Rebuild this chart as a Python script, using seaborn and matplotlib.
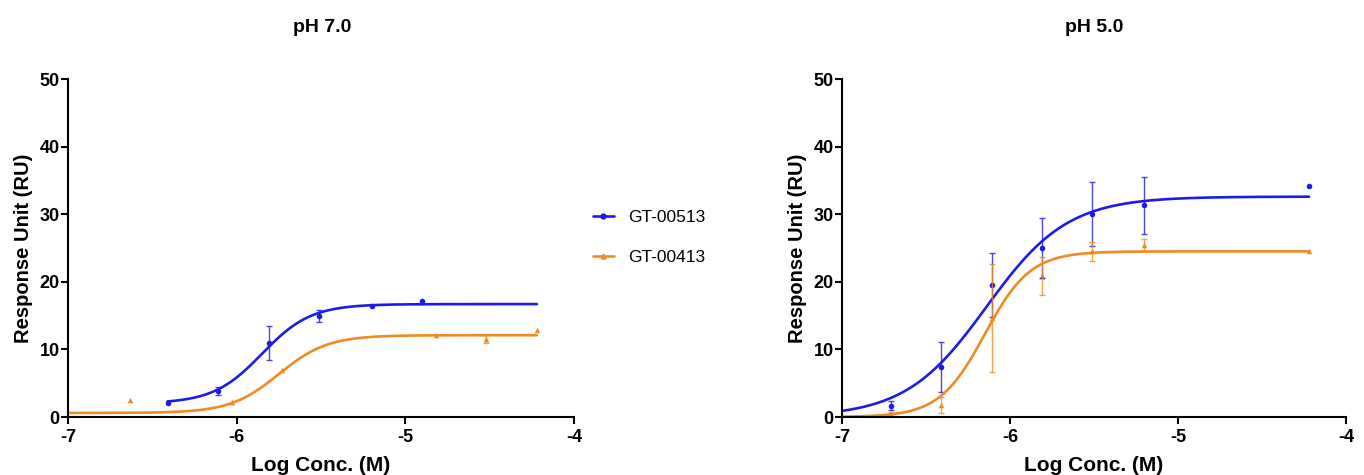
import numpy as np
import pandas as pd
import seaborn as sns
import matplotlib.pyplot as plt
from matplotlib.lines import Line2D

# === DADOS ===
series = ["GT-00513", "GT-00413"]
cores = {"GT-00513": "#1c1ce6", "GT-00413": "#f08a24"}
marcadores = {"GT-00513": "o", "GT-00413": "^"}

# pH 7.0
ph7_azul_x = [-6.41, -6.11, -5.81, -5.51, -5.20, -4.90]
ph7_azul_y = [2.1, 3.8, 11.0, 15.0, 16.4, 17.1]
ph7_azul_err = [0.0, 0.6, 2.5, 0.9, 0.0, 0.0]
ph7_laranja_x = [-6.63, -6.03, -5.73, -4.82, -4.52, -4.22]
ph7_laranja_y = [2.5, 2.2, 7.0, 12.1, 11.5, 12.9]
ph7_laranja_err = [0.0, 0.0, 0.0, 0.0, 0.6, 0.0]

# pH 5.0
ph5_azul_x = [-6.71, -6.41, -6.11, -5.81, -5.51, -5.20, -4.22]
ph5_azul_y = [1.7, 7.4, 19.5, 25.0, 30.0, 31.3, 34.2]
ph5_azul_err = [0.6, 3.7, 4.7, 4.45, 4.75, 4.2, 0.0]
ph5_laranja_x = [-6.71, -6.41, -6.11, -5.81, -5.51, -5.20, -4.22]
ph5_laranja_y = [0.5, 1.8, 14.6, 20.8, 24.5, 25.5, 24.5]
ph5_laranja_err = [0.3, 1.2, 8.0, 2.8, 1.4, 0.9, 0.0]

# parâmetros do ajuste 4PL: (bottom, top, logEC50, hill, x_inicio, x_fim)
ajuste_ph7 = {"GT-00513": (2.0, 16.7, -5.85, 3.0, -6.41, -4.22),
              "GT-00413": (0.6, 12.1, -5.75, 3.0, -7.0, -4.22)}
ajuste_ph5 = {"GT-00513": (0.0, 32.6, -6.14, 1.8, -7.0, -4.22),
              "GT-00413": (0.0, 24.5, -6.15, 3.2, -7.0, -4.22)}


def curva_4pl(bottom, top, ec50, hill, x0, x1):
    x = np.linspace(x0, x1, 300)
    y = bottom + (top - bottom) / (1 + 10 ** ((ec50 - x) * hill))
    return x, y


pontos_ph7 = pd.concat([
    pd.DataFrame({"x": ph7_azul_x, "y": ph7_azul_y, "err": ph7_azul_err, "Série": "GT-00513"}),
    pd.DataFrame({"x": ph7_laranja_x, "y": ph7_laranja_y, "err": ph7_laranja_err, "Série": "GT-00413"}),
])
pontos_ph5 = pd.concat([
    pd.DataFrame({"x": ph5_azul_x, "y": ph5_azul_y, "err": ph5_azul_err, "Série": "GT-00513"}),
    pd.DataFrame({"x": ph5_laranja_x, "y": ph5_laranja_y, "err": ph5_laranja_err, "Série": "GT-00413"}),
])

sns.set_theme(style="ticks")
plt.rcParams["font.family"] = ["Liberation Sans", "DejaVu Sans"]
plt.rcParams["text.color"] = "black"

fig = plt.figure(figsize=(13.64, 4.75), dpi=100)
ax1 = fig.add_axes([68 / 1364, 1 - 417 / 475, 506 / 1364, 338 / 475])
ax2 = fig.add_axes([842 / 1364, 1 - 417 / 475, 504 / 1364, 338 / 475])

for ax, pontos, ajuste in [(ax1, pontos_ph7, ajuste_ph7), (ax2, pontos_ph5, ajuste_ph5)]:
    for s in series:
        cx, cy = curva_4pl(*ajuste[s])
        sns.lineplot(x=cx, y=cy, ax=ax, color=cores[s], linewidth=1.9, legend=False)
        d = pontos[pontos["Série"] == s]
        com_erro = d[d["err"] > 0]
        ax.errorbar(com_erro["x"], com_erro["y"], yerr=com_erro["err"], fmt="none",
                    ecolor=cores[s], elinewidth=1.0, capsize=2.5, capthick=1.0, alpha=0.8,
                    clip_on=False)
        sns.scatterplot(data=d, x="x", y="y", ax=ax, color=cores[s], marker=marcadores[s],
                        s=16, edgecolor=cores[s], linewidth=0, legend=False, clip_on=False)

    ax.set_xlim(-7, -4)
    ax.set_ylim(0, 50)
    ax.set_xticks([-7, -6, -5, -4])
    ax.set_xticklabels(["-7", "-6", "-5", "-4"])
    ax.set_yticks([0, 10, 20, 30, 40, 50])
    sns.despine(ax=ax)
    for sp in ["left", "bottom"]:
        ax.spines[sp].set_linewidth(1.5)
        ax.spines[sp].set_color("black")
    ax.tick_params(axis="both", direction="out", length=5, width=1.5, color="black",
                   labelsize=13, labelcolor="black")
    ax.tick_params(axis="x", pad=4)
    ax.tick_params(axis="y", pad=1)
    for lbl in ax.get_xticklabels() + ax.get_yticklabels():
        lbl.set_fontweight("bold")
    ax.set_xlabel("Log Conc. (M)", fontsize=15, fontweight="bold", labelpad=7, color="black")
    ax.set_ylabel("Response Unit (RU)", fontsize=14.5, fontweight="bold", labelpad=5, color="black")

fig.text(322 / 1364, 1 - 27 / 475, "pH 7.0", ha="center", va="center", fontsize=14,
         fontweight="bold", color="black")
fig.text(1094 / 1364, 1 - 27 / 475, "pH 5.0", ha="center", va="center", fontsize=14,
         fontweight="bold", color="black")

handles = [Line2D([], [], color=cores[s], marker=marcadores[s], markersize=3.5, linewidth=1.9)
           for s in series]
fig.legend(handles, series, loc="center left", bbox_to_anchor=(593 / 1364, 1 - 237.5 / 475),
           frameon=False, fontsize=12.5, handlelength=1.2, handletextpad=0.85,
           labelspacing=1.4, borderpad=0, borderaxespad=0, labelcolor="black")

fig.savefig("out.png", dpi=100)
